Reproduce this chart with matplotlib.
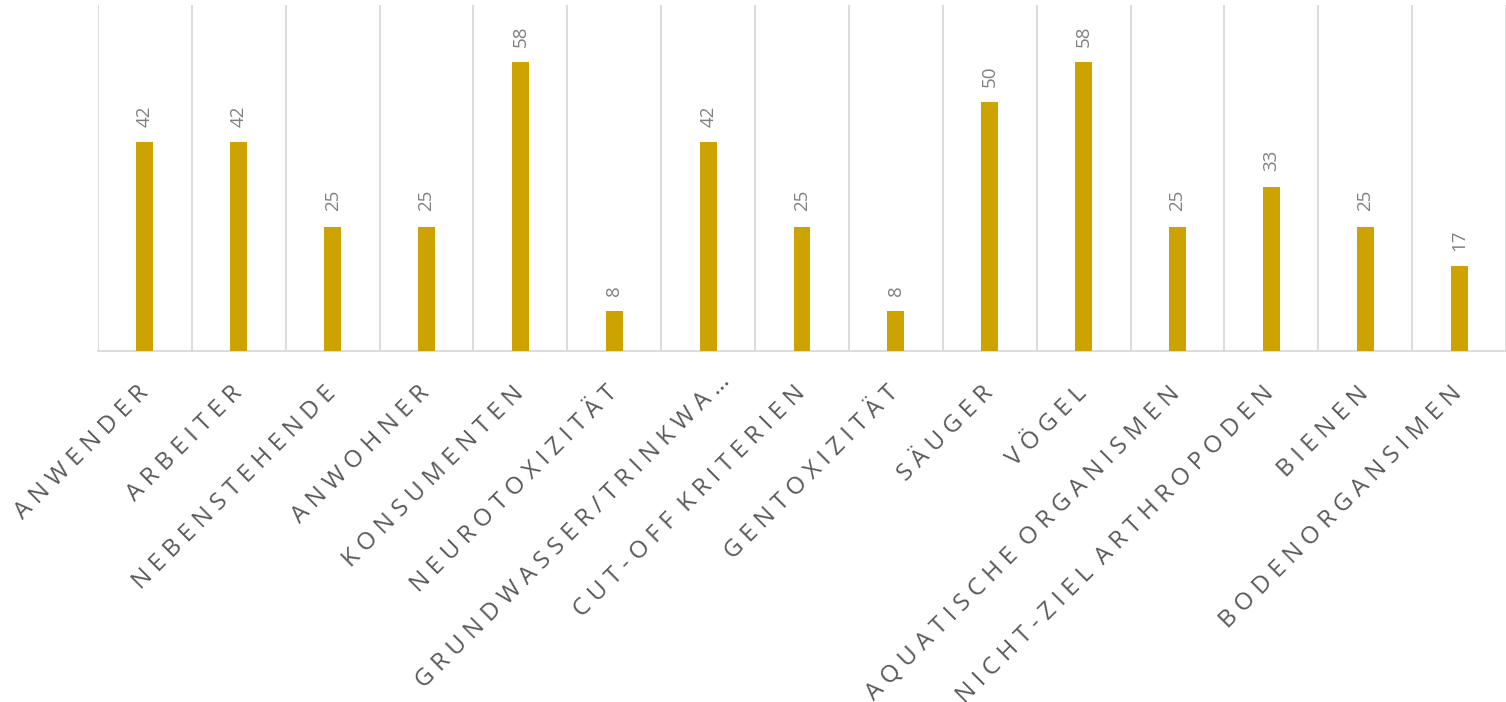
import matplotlib
matplotlib.use("Agg")
import matplotlib.pyplot as plt
import matplotlib.transforms as mtransforms
import numpy as np

# categories and values (percent)
categories = ["ANWENDER", "ARBEITER", "NEBENSTEHENDE", "ANWOHNER", "KONSUMENTEN",
              "NEUROTOXIZITÄT", "GRUNDWASSER/TRINKWA…", "CUT-OFF KRITERIEN",
              "GENTOXIZITÄT", "SÄUGER", "VÖGEL", "AQUATISCHE ORGANISMEN",
              "NICHT-ZIEL ARTHROPODEN", "BIENEN", "BODENORGANSIMEN"]
values = [42, 42, 25, 25, 58, 8, 42, 25, 8, 50, 58, 25, 33, 25, 17]

plt.rcParams['font.family'] = ['Open Sans', 'DejaVu Sans']

# Excel-like letter spacing for the axis labels
SP = "\u2009\u200a"
def spaced(s):
    out = s[0]
    for prev, ch in zip(s, s[1:]):
        if prev != " ":
            out += SP
        out += ch
    return out

fig = plt.figure(figsize=(15.06, 7.02), dpi=100)
ax = fig.add_axes([98/1506, 1 - 351/702, 1 - 98/1506, (351 - 5)/702])

x = np.arange(len(categories))
bars = ax.bar(x, values, width=0.18, color='#CCA300', zorder=3)

ax.set_xlim(-0.5, len(categories) - 0.5)
ax.set_ylim(0, 69.5)

# vertical separators between categories
for b in np.arange(-0.5, len(categories) + 0.5, 1):
    ax.axvline(b, color='#d9d9d9', lw=1.3, zorder=1)

for s in ['top', 'right', 'left']:
    ax.spines[s].set_visible(False)
ax.spines['bottom'].set_color('#d9d9d9')
ax.spines['bottom'].set_linewidth(1.3)
ax.set_yticks([])
ax.tick_params(axis='x', length=0, pad=22)

ax.set_xticks(x)
ax.set_xticklabels([spaced(c) for c in categories], rotation=45, ha='right',
                   va='top', rotation_mode='anchor', fontsize=17.5,
                   color='#595959')
for i, lbl in enumerate(ax.get_xticklabels()):
    dx, dy = (-9, 0) if i != 6 else (10, 12)   # truncated label sits further right
    shift = mtransforms.ScaledTranslation(dx/100, dy/100, fig.dpi_scale_trans)
    lbl.set_transform(lbl.get_transform() + shift)

for xi, v in zip(x, values):
    ax.annotate(str(v), (xi, v), xytext=(0, 11), textcoords='offset points',
                rotation=90, ha='center', va='bottom', fontsize=13.5,
                color='#808080')

fig.savefig('out.png', dpi=100)
